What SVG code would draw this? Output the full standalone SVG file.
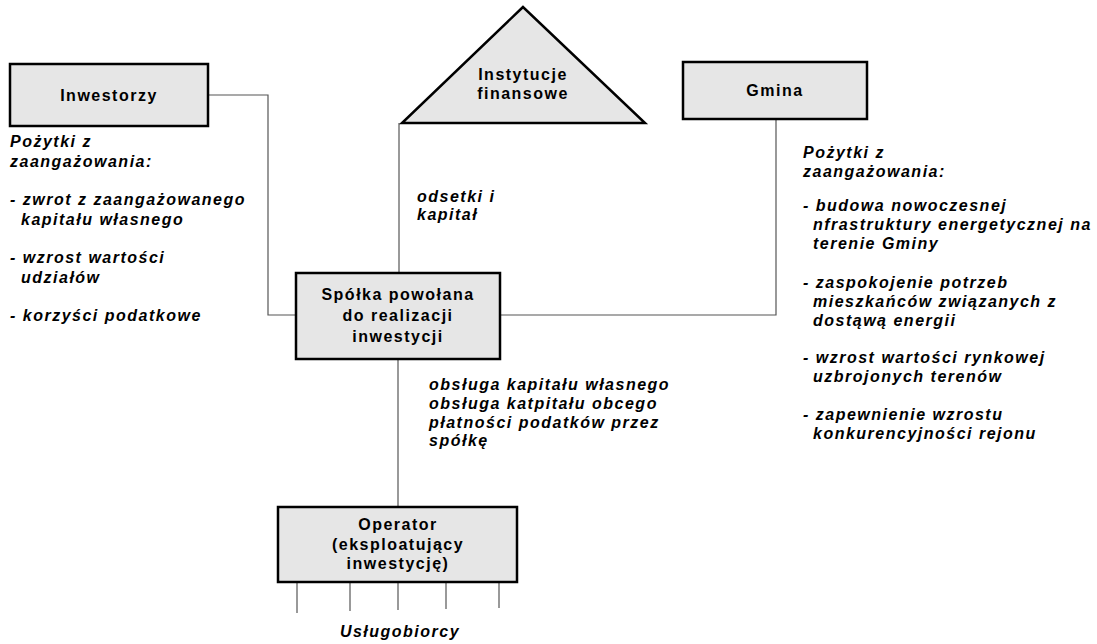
<svg xmlns="http://www.w3.org/2000/svg" width="1097" height="644" viewBox="0 0 1097 644">
<style>
.box{fill:#e6e6e6;stroke:#000;stroke-width:2.5}
.con{fill:none;stroke:#555;stroke-width:1.2}
.t{font-family:"Liberation Sans",Arial,sans-serif;font-weight:bold;font-size:16px;letter-spacing:1.5px;fill:#000}
.c{text-anchor:middle}
.i{font-style:italic}
</style>
<rect width="1097" height="644" fill="#fff"/>
<g id="connectors">
<polyline class="con" points="208,95 268,95 268,315 296,315"/>
<line class="con" x1="399" y1="123" x2="399" y2="273"/>
<polyline class="con" points="500,315 776,315 776,119"/>
<line class="con" x1="398" y1="359" x2="398" y2="507"/>
<line class="con" x1="297" y1="582" x2="297" y2="613"/>
<line class="con" x1="350" y1="582" x2="350" y2="611"/>
<line class="con" x1="398" y1="582" x2="398" y2="610"/>
<line class="con" x1="446" y1="582" x2="446" y2="609"/>
<line class="con" x1="499" y1="582" x2="499" y2="608"/>
</g>
<g id="inwestorzy">
<rect class="box" x="10" y="64" width="198" height="62"/>
<text class="t c" x="109" y="101">Inwestorzy</text>
</g>
<g id="instytucje">
<polygon class="box" points="523,7 402,123 645,123" stroke-width="2"/>
<text class="t c" x="523" y="80">Instytucje</text>
<text class="t c" x="523" y="99">finansowe</text>
</g>
<g id="gmina">
<rect class="box" x="683" y="62" width="184" height="57"/>
<text class="t c" x="775" y="96">Gmina</text>
</g>
<g id="spolka">
<rect class="box" x="296" y="273" width="204" height="86"/>
<text class="t c" x="398" y="300">Spółka powołana</text>
<text class="t c" x="398" y="321">do realizacji</text>
<text class="t c" x="398" y="342">inwestycji</text>
</g>
<g id="operator">
<rect class="box" x="278" y="507" width="239" height="75"/>
<text class="t c" x="398" y="530">Operator</text>
<text class="t c" x="398" y="550">(eksploatujący</text>
<text class="t c" x="398" y="569">inwestycję)</text>
</g>
<g id="left-notes" class="t i">
<text x="10" y="147">Pożytki z</text>
<text x="10" y="167">zaangażowania:</text>
<text x="10" y="205">- zwrot z zaangażowanego</text>
<text x="21" y="225">kapitału własnego</text>
<text x="10" y="263">- wzrost wartości</text>
<text x="21" y="283">udziałów</text>
<text x="10" y="321">- korzyści podatkowe</text>
</g>
<g id="middle-notes" class="t i">
<text x="417" y="202">odsetki  i</text>
<text x="417" y="220">kapitał</text>
<text x="429" y="390">obsługa kapitału własnego</text>
<text x="429" y="409">obsługa katpitału obcego</text>
<text x="429" y="428">płatności podatków przez</text>
<text x="429" y="446">spółkę</text>
</g>
<g id="right-notes" class="t i">
<text x="803" y="158">Pożytki z</text>
<text x="803" y="177">zaangażowania:</text>
<text x="803" y="211">- budowa nowoczesnej</text>
<text x="813" y="230">nfrastruktury energetycznej na</text>
<text x="813" y="249">terenie Gminy</text>
<text x="803" y="288">- zaspokojenie potrzeb</text>
<text x="813" y="307">mieszkańców związanych z</text>
<text x="813" y="326">dostąwą energii</text>
<text x="803" y="363">- wzrost wartości rynkowej</text>
<text x="813" y="382">uzbrojonych terenów</text>
<text x="803" y="420">- zapewnienie wzrostu</text>
<text x="813" y="439">konkurencyjności rejonu</text>
</g>
<g id="uslugobiorcy">
<text class="t i c" x="400" y="637">Usługobiorcy</text>
</g>
</svg>
